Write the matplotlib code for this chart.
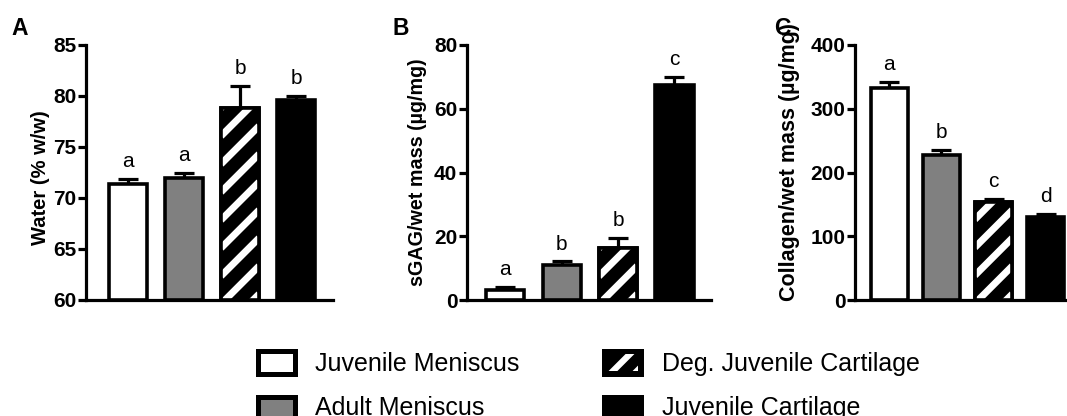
import matplotlib
matplotlib.use("Agg")
import matplotlib.pyplot as plt
from matplotlib.patches import Rectangle
from matplotlib.lines import Line2D
from matplotlib.transforms import IdentityTransform
import numpy as np

plt.rcParams['font.family'] = ['Liberation Sans', 'DejaVu Sans']

groups = ["Juvenile Meniscus", "Adult Meniscus", "Deg. Juvenile Cartilage", "Juvenile Cartilage"]
fills = ["white", "#808080", "hatch", "black"]

water_mean = [71.4, 72.0, 78.8, 79.6]
water_err = [0.5, 0.45, 2.2, 0.4]
water_sig = ["a", "a", "b", "b"]

sgag_mean = [3.2, 10.9, 16.3, 67.3]
sgag_err = [0.9, 1.2, 3.3, 2.6]
sgag_sig = ["a", "b", "b", "c"]

coll_mean = [333, 228, 153, 130]
coll_err = [9, 7, 6, 5]
coll_sig = ["a", "b", "c", "d"]

W, H = 1067, 416
fig = plt.figure(figsize=(W / 100, H / 100), dpi=100)

LW = 2.3
EDGE = 2.6


def px_axes(l, r, top, bot):
    return fig.add_axes([l / W, 1 - bot / H, (r - l) / W, (bot - top) / H])


def draw_panel(ax, means, errs, sig, ylim, yticks, ylabel, xlim, width, label_x,
               label_y=0.5, label_size=14):
    x = np.arange(len(means))
    ax.set_xlim(*xlim)
    ax.set_ylim(*ylim)
    ax.set_autoscale_on(False)
    bars = []
    for i, (m, f) in enumerate(zip(means, fills)):
        fc = "black" if f == "hatch" else f
        b = ax.bar(x[i], m - ylim[0], width=width, bottom=ylim[0],
                   color=fc, edgecolor="black", linewidth=EDGE, zorder=3)
        bars.append(b[0])
    ax.errorbar(x, means, yerr=[np.zeros(len(means)), errs], fmt="none", ecolor="black",
                elinewidth=LW, capsize=7.5, capthick=LW, zorder=2)
    # diagonal white stripes for the hatched bar
    for i, f in enumerate(fills):
        if f != "hatch":
            continue
        rect = bars[i]
        xl = rect.get_x(); yb = rect.get_y()
        x0, y0 = ax.transData.transform((xl, yb))
        x1, y1 = ax.transData.transform((xl + rect.get_width(), yb + rect.get_height()))
        period = 28
        cs = np.arange((y0 - x1) - period, (y1 - x0) + period, period)
        for c in cs:
            ln = Line2D([x0, x1], [x0 + c + 6, x1 + c + 6], color="white", linewidth=5.0,
                        transform=IdentityTransform(), zorder=4, solid_capstyle="butt")
            ax.add_artist(ln)
            ln.set_clip_path(rect)
        ov = Rectangle((xl, yb), rect.get_width(), rect.get_height(), facecolor="none",
                       edgecolor="black", linewidth=EDGE, zorder=5)
        ax.add_patch(ov)
    for i, (m, e, s) in enumerate(zip(means, errs, sig)):
        ax.annotate(s, (x[i], m + e), xytext=(0, 8.5), textcoords="offset points",
                    ha="center", va="baseline", fontsize=15)
    ax.set_yticks(yticks)
    ax.set_xticks([])
    for sp in ["top", "right"]:
        ax.spines[sp].set_visible(False)
    for sp in ["left", "bottom"]:
        ax.spines[sp].set_linewidth(LW)
    ax.tick_params(axis="y", direction="out", length=5.5, width=LW, labelsize=15, pad=1.5)
    for t in ax.get_yticklabels():
        t.set_fontweight("bold")
    ax.set_ylabel(ylabel, fontsize=label_size, fontweight="bold")
    ax.yaxis.set_label_coords(label_x, label_y)


axA = px_axes(86, 333, 45, 300)
draw_panel(axA, water_mean, water_err, water_sig, (60, 85), [60, 65, 70, 75, 80, 85],
           "Water (% w/w)", (-0.75, 3.66), 0.68, -0.146, 0.48, 14.5)

axB = px_axes(467, 711, 45, 300)
draw_panel(axB, sgag_mean, sgag_err, sgag_sig, (0, 80), [0, 20, 40, 60, 80],
           "sGAG/wet mass (µg/mg)", (-0.68, 3.65), 0.68, -0.164, 0.5, 14.2)

axC = px_axes(855, 1067, 45, 300)
draw_panel(axC, coll_mean, coll_err, coll_sig, (0, 400), [0, 100, 200, 300, 400],
           "Collagen/wet mass (µg/mg)", (-0.66, 3.41), 0.72, -0.26, 0.54, 15.5)

for lab, xp in [("A", 11), ("B", 392), ("C", 774)]:
    fig.text(xp / W, 1 - 35 / H, lab, fontsize=16.5, fontweight="bold", ha="left", va="baseline")

# legend (manual)
def px_rect(l, top, w, h, fc):
    return Rectangle((l, H - top - h), w, h, transform=IdentityTransform(), facecolor=fc,
                     edgecolor="black", linewidth=3.6)

BW, BH = 37, 23
leg_pos = [(257.5, 350.5, 315, 371), (257.5, 396.5, 315, 415),
           (603.5, 350.5, 662, 371), (603.5, 396.5, 662, 415)]
for (bx, by, tx, ty), name, f in zip(leg_pos, groups, fills):
    fc = "black" if f == "hatch" else f
    r = px_rect(bx, by, BW, BH, fc)
    fig.add_artist(r)
    if f == "hatch":
        x0, y0 = bx, H - by - BH
        x1, y1 = bx + BW, H - by
        xc, yc = (x0 + x1) / 2, (y0 + y1) / 2
        for c in [yc - xc, yc - xc - 24]:
            ln = Line2D([x0, x1], [x0 + c, x1 + c], color="white", linewidth=4.5,
                        transform=IdentityTransform(), solid_capstyle="butt")
            fig.add_artist(ln)
            ln.set_clip_path(Rectangle((x0 + 3, y0 + 3), BW - 6, BH - 6,
                                       transform=IdentityTransform()))
    fig.text(tx / W, 1 - ty / H, name, fontsize=18, ha="left", va="baseline")

fig.savefig("out.png", dpi=100)
